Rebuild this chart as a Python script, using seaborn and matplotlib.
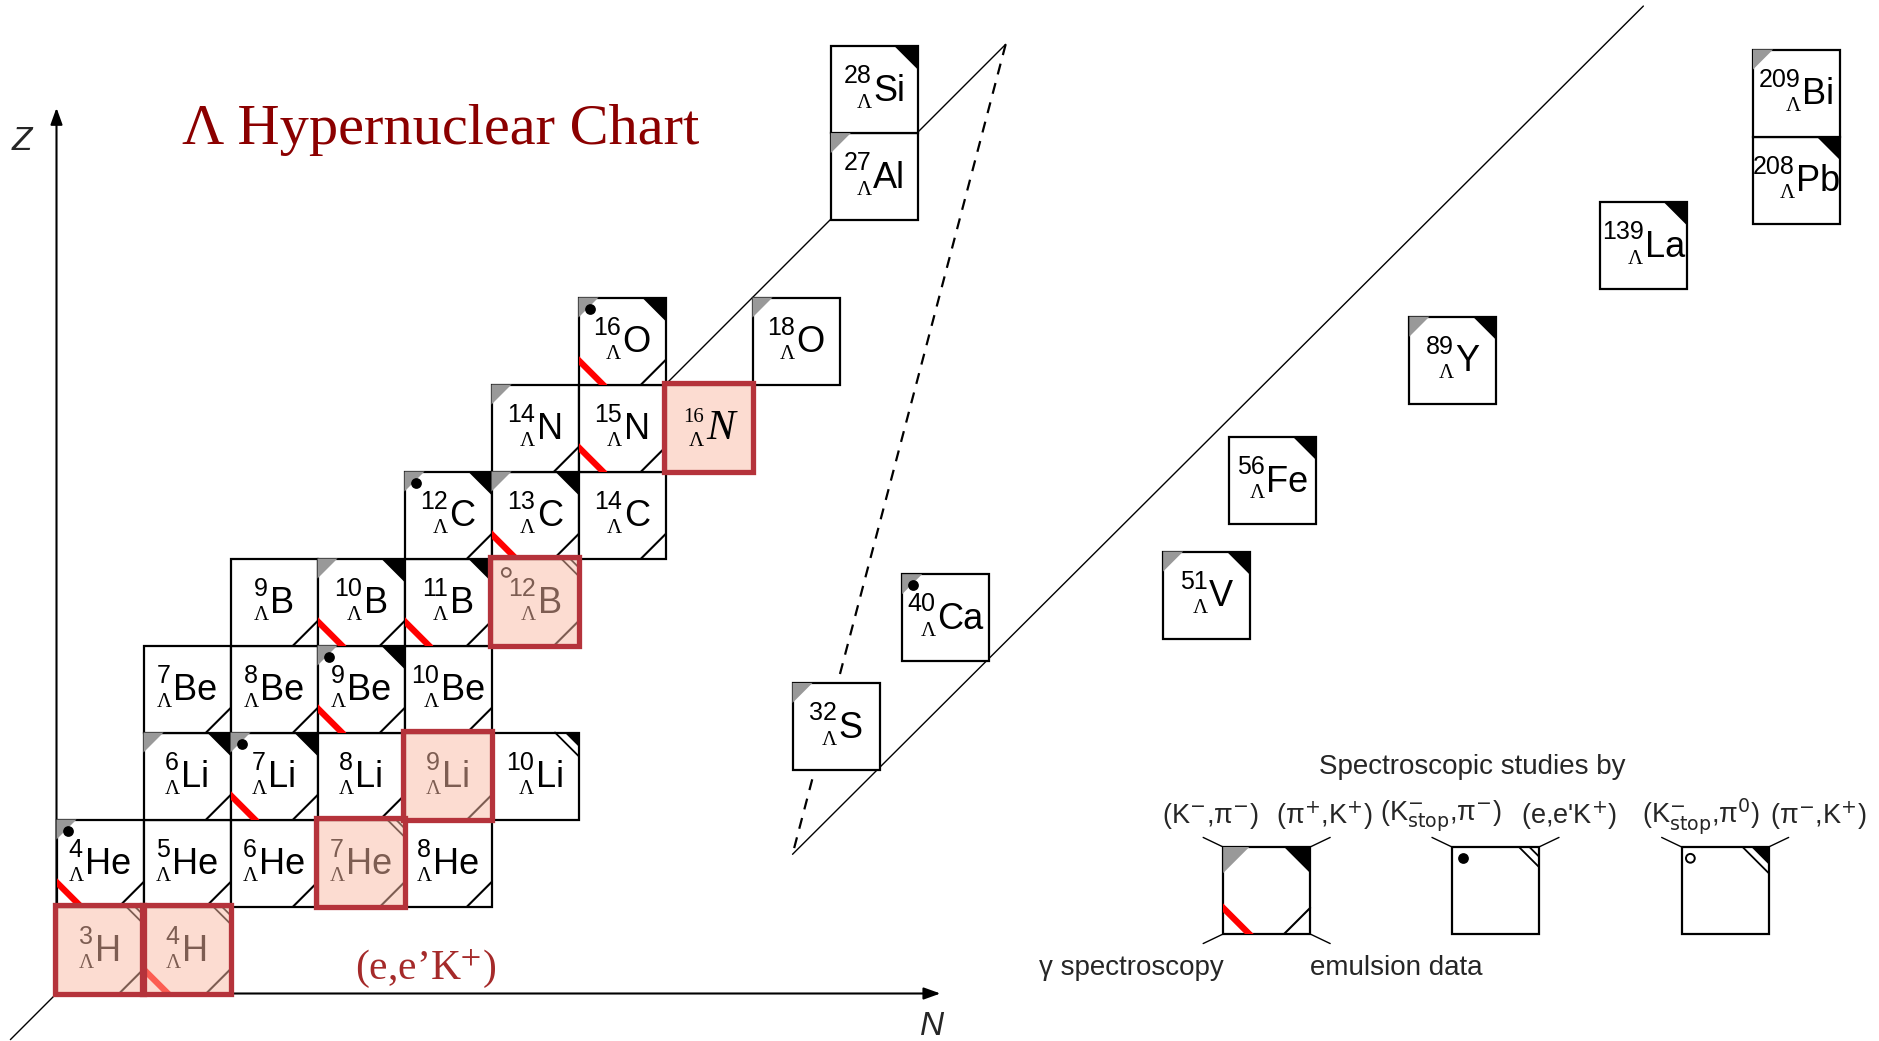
import numpy as np
import pandas as pd
import matplotlib
matplotlib.use('Agg')
import matplotlib.pyplot as plt
from matplotlib.patches import Rectangle, Polygon
import seaborn as sns

sns.set_theme(style='white')
plt.rcParams['font.family'] = ['Liberation Sans', 'DejaVu Sans']

# Light hypernuclei on the regular (N, Z) grid
light_sym = ['H', 'H', 'He', 'He', 'He', 'He', 'He', 'Li', 'Li', 'Li', 'Li', 'Li',
             'Be', 'Be', 'Be', 'Be', 'B', 'B', 'B', 'B', 'C', 'C', 'C',
             'N', 'N', 'N', 'O', 'O']
light_A = [3, 4, 4, 5, 6, 7, 8, 6, 7, 8, 9, 10,
           7, 8, 9, 10, 9, 10, 11, 12, 12, 13, 14,
           14, 15, 16, 16, 18]
light_Z = [1, 1, 2, 2, 2, 2, 2, 3, 3, 3, 3, 3,
           4, 4, 4, 4, 5, 5, 5, 5, 6, 6, 6,
           7, 7, 7, 8, 8]
# G=(K-,pi-)  B=(pi+,K+)  D=(K-stop,pi-)  E=(e,e'K+)  O=(K-stop,pi0)
# P=(pi-,K+)  R=gamma spectroscopy  M=emulsion data
light_studies = ['EM', 'ERM', 'GDRM', 'M', 'M', 'EM', 'M', 'GBM', 'GDBRM', 'M', 'M', 'P',
                 'M', 'M', 'GDBRM', 'M', 'M', 'GBRM', 'BRM', 'OEM', 'GDBM', 'GBRM', 'M',
                 'GM', 'RM', '', 'GDBRM', 'G']

# Heavier hypernuclei, placed on a compressed (broken) scale
heavy_sym = ['Al', 'Si', 'S', 'Ca', 'V', 'Fe', 'Y', 'La', 'Pb', 'Bi']
heavy_A = [27, 28, 32, 40, 51, 56, 89, 139, 208, 209]
heavy_x = [8.90, 8.90, 8.46, 9.72, 12.72, 13.48, 15.55, 17.74, 19.50, 19.50]
heavy_y = [8.89, 9.89, 2.57, 3.82, 4.08, 5.40, 6.78, 8.10, 8.85, 9.85]
heavy_studies = ['G', 'B', 'G', 'GD', 'GB', 'B', 'GB', 'B', 'B', 'G']

# (e,e'K+) targets
eek_targets = ['3H', '4H', '7He', '9Li', '12B', '16N']

# guide lines (grid units)
guide1_x, guide1_y = [-0.53, 10.91], [-0.53, 10.91]
dash_x, dash_y = [10.91, 8.46], [10.91, 1.60]
guide2_x, guide2_y = [8.46, 18.24], [1.60, 11.35]

# legend
legend_x = [13.41, 16.04, 18.68]
legend_codes = ['GBRM', 'DE', 'OP']
legend_top = [r'(K$^{-}$,π$^{-}$)', r'(π$^{+}$,K$^{+}$)',
              r'(K$^{-}_{\rm stop}$,π$^{-}$)', r"(e,e'K$^{+}$)",
              r'(K$^{-}_{\rm stop}$,π$^{0}$)', r'(π$^{-}$,K$^{+}$)']
legend_top_x = [13.26, 14.57, 15.91, 17.39, 18.90, 20.25]
legend_bottom = ['γ spectroscopy', 'emulsion data']
legend_bottom_x = [12.36, 15.40]

PX = 87.0
X0, Y0 = 56.5, 993.5
W, H = 1879, 1041

fig = plt.figure(figsize=(W / 100, H / 100), dpi=100)
ax = fig.add_axes([0, 0, 1, 1])
xlim = (-X0 / PX, (W - X0) / PX)
ylim = ((Y0 - H) / PX, Y0 / PX)
ax.set_xlim(*xlim)
ax.set_ylim(*ylim)
ax.axis('off')
renderer = fig.canvas.get_renderer()

dots, rings = [], []


def draw_studies(x, y, codes, box, legend=False):
    g = 0.3 if legend else 0.23
    b = 0.3 if legend else 0.27
    c = 0.3 if legend else 0.28
    for code in codes:
        if code == 'G':
            ax.add_patch(Polygon([(x, y + 1), (x + g, y + 1), (x, y + 1 - g)],
                                 fc='#999999', ec='none', zorder=4))
        elif code == 'B':
            ax.add_patch(Polygon([(x + 1, y + 1), (x + 1 - b, y + 1), (x + 1, y + 1 - b)],
                                 fc='black', ec='none', zorder=4))
        elif code == 'P':
            p = 0.2 if legend else 0.16
            q = 0.3 if legend else 0.27
            ax.add_patch(Polygon([(x + 1, y + 1), (x + 1 - p, y + 1), (x + 1, y + 1 - p)],
                                 fc='black', ec='none', zorder=4))
            ax.plot([x + 1 - q, x + 1], [y + 1, y + 1 - q], color='black', lw=1.3, zorder=4)
        elif code == 'E':
            for e in ((0.11, 0.23) if legend else (0.1, 0.2)):
                ax.plot([x + 1 - e, x + 1], [y + 1, y + 1 - e], color='black', lw=1.3, zorder=4)
        elif code == 'R':
            ln, = ax.plot([x, x + c], [y + c, y], color='red', lw=4.5,
                          solid_capstyle='projecting', zorder=4)
            ln.set_clip_path(box)
        elif code == 'M':
            ax.plot([x + 1 - c, x + 1], [y, y + c], color='black', lw=1.5, zorder=4)
        elif code == 'D':
            dots.append((x + 0.13, y + 0.87))
        elif code == 'O':
            rings.append((x + 0.17, y + 0.84) if not legend else (x + 0.1, y + 0.87))


def nuclide_label(x, y, A, sym, color='black', special=False, z=5):
    if special:
        num_kw = dict(family='Liberation Serif', size=15)
        sym_kw = dict(family='Liberation Serif', size=31, style='italic')
    else:
        num_kw = dict(family='Liberation Sans', size=18)
        sym_kw = dict(family='Liberation Sans', size=26)
    lam_kw = dict(family='Liberation Serif', size=15)
    t_sym = ax.text(0, 0, sym, color=color, zorder=z, va='baseline', ha='left', **sym_kw)
    t_num = ax.text(0, 0, str(A), color=color, zorder=z, va='baseline', ha='left', **num_kw)
    t_lam = ax.text(0, 0, 'Λ', color=color, zorder=z, va='baseline', ha='left', **lam_kw)
    w_sym, w_num, w_lam = [t.get_window_extent(renderer).width / PX for t in (t_sym, t_num, t_lam)]
    gap = 1.5 / PX
    w_pre = max(w_num, w_lam)
    left = x + 0.5 - (w_pre + gap + w_sym) / 2
    xs = left + w_pre + gap
    t_sym.set_position((xs, y + 0.37))
    if len(str(A)) > 1:
        t_num.set_position((xs - gap - w_num, y + 0.571))
    else:
        t_num.set_position((xs - gap - w_lam, y + 0.571))
    t_lam.set_position((xs - gap - w_lam, y + 0.29))


def nuclide_box(x, y, A, sym, codes):
    name = f'{A}{sym}'
    box = Rectangle((x, y), 1, 1, fc='white', ec='black', lw=1.6, zorder=3)
    ax.add_patch(box)
    draw_studies(x, y, codes, box)
    special = name == '16N'
    nuclide_label(x, y, A, sym, special=special, z=8 if special else 5)
    if name in eek_targets:
        ax.add_patch(Rectangle((x, y), 1, 1, fc='#FBBBA5', ec='none', alpha=0.5, zorder=6))
        ax.add_patch(Rectangle((x - 0.02, y - 0.005), 1.02, 1.02, fill=False,
                               ec='#B5333B', lw=3.8, zorder=7))


# guide lines
ax.plot(guide1_x, guide1_y, color='black', lw=1.0, zorder=1)
ax.plot(guide2_x, guide2_y, color='black', lw=1.0, zorder=1)
ax.plot(dash_x, dash_y, color='black', lw=1.6, ls=(0, (5, 4)), zorder=1)

# axes arrows
arrow = dict(arrowstyle='-|>,head_length=0.5,head_width=0.18', color='black', lw=1.5,
             mutation_scale=20, shrinkA=0, shrinkB=0)
ax.annotate('', xy=(0, 10.18), xytext=(0, 0), arrowprops=arrow, zorder=2)
ax.annotate('', xy=(10.16, 0), xytext=(0, 0), arrowprops=arrow, zorder=2)
ax.text(-0.40, 9.79, 'Z', fontsize=24, style='italic', ha='center', va='center')
ax.text(10.06, -0.38, 'N', fontsize=24, style='italic', ha='center', va='center')

# chart boxes
for A, sym, Z, codes in zip(light_A, light_sym, light_Z, light_studies):
    N = A - 1 - Z
    nuclide_box(N - 1, Z - 1, A, sym, codes)
for A, sym, hx, hy, codes in zip(heavy_A, heavy_sym, heavy_x, heavy_y, heavy_studies):
    nuclide_box(hx, hy, A, sym, codes)

# legend boxes
for lx, codes in zip(legend_x, legend_codes):
    box = Rectangle((lx, 0.684), 1, 1, fc='white', ec='black', lw=1.6, zorder=3)
    ax.add_patch(box)
    draw_studies(lx, 0.684, codes, box, legend=True)
    corners = [(0, 1, -1, 1), (1, 1, 1, 1)]
    if codes == 'GBRM':
        corners += [(0, 0, -1, -1), (1, 0, 1, -1)]
    for cx, cy, sx, sy in corners:
        ax.plot([lx + cx, lx + cx + sx * 0.23], [0.684 + cy, 0.684 + cy + sy * 0.11],
                color='black', lw=1.0, zorder=2)

ax.text(16.27, 2.60, 'Spectroscopic studies by', fontsize=20, ha='center', va='center')
for lab, tx in zip(legend_top, legend_top_x):
    ax.text(tx, 2.04, lab, fontsize=19.5, ha='center', va='center', math_fontfamily='dejavusans')
for lab, tx in zip(legend_bottom, legend_bottom_x):
    ax.text(tx, 0.29, lab, fontsize=20, ha='center', va='center')

# K-stop markers
dot_df = pd.DataFrame(dots, columns=['x', 'y'])
sns.scatterplot(data=dot_df, x='x', y='y', ax=ax, color='black', s=60, linewidth=0,
                zorder=4, legend=False)
ring_df = pd.DataFrame(rings, columns=['x', 'y'])
ax.scatter(ring_df['x'], ring_df['y'], s=40, facecolors='none', edgecolors='black',
           linewidths=1.4, zorder=4)

# titles
ax.text(4.42, 9.93, 'Λ Hypernuclear Chart', fontsize=42, family='Liberation Serif',
        color='#8B0000', ha='center', va='center')
ax.text(4.25, 0.29, r"(e,e’K$^{+}$)", fontsize=30, family='Liberation Serif',
        color='#A52A2A', ha='center', va='center', math_fontfamily='stix')

ax.set_xlim(*xlim)
ax.set_ylim(*ylim)
ax.set_xlabel('')
ax.set_ylabel('')
fig.savefig('out.png', dpi=100, facecolor='white')
